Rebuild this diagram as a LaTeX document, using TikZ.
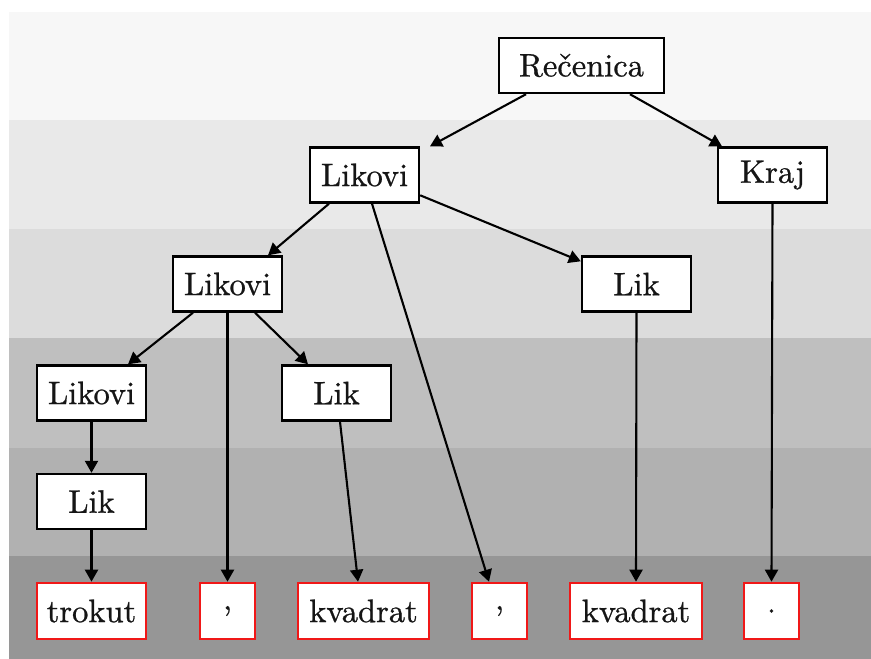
\documentclass[tikz,border=0pt]{standalone}
\usepackage{fontspec}
\usetikzlibrary{arrows.meta,calc}
\newfontfamily\nodefont{lmroman10-regular.otf}[FakeBold=0.8]
\definecolor{bandA}{HTML}{F7F7F7}
\definecolor{bandB}{HTML}{E9E9E9}
\definecolor{bandC}{HTML}{DCDCDC}
\definecolor{bandD}{HTML}{BFBFBF}
\definecolor{bandE}{HTML}{B1B1B1}
\definecolor{bandF}{HTML}{969696}
\definecolor{leafred}{HTML}{F01818}
\definecolor{ink}{HTML}{151515}
\begin{document}
\begin{tikzpicture}[x=1pt,y=-1pt,
  every node/.style={font=\nodefont\fontsize{32.5}{38}\selectfont, text=ink},
  phrase/.style={draw=black, line width=2.4pt, fill=white, rectangle,
    minimum width=109pt, minimum height=55pt, inner sep=0pt},
  token/.style={draw=leafred, line width=2.6pt, fill=white, rectangle,
    minimum height=56pt, inner sep=0pt},
  edge/.style={line width=2.1pt, -{Triangle[length=12pt,width=13pt]}}]
\useasboundingbox (0,0) rectangle (871,659);
% horizontal level bands
\fill[bandA] (9,12) rectangle (871,120);
\fill[bandB] (9,120) rectangle (871,229);
\fill[bandC] (9,229) rectangle (871,338);
\fill[bandD] (9,338) rectangle (871,448);
\fill[bandE] (9,448) rectangle (871,556);
\fill[bandF] (9,556) rectangle (871,659);

% parse tree nodes
\node[phrase, minimum width=165pt] (rec) at (581.5,65.5) {Rečenica};
\node[phrase] (lk1) at (364.5,175) {Likovi};
\node[phrase] (kraj) at (772.5,175) {Kraj};
\node[phrase] (lk2) at (227.5,284) {Likovi};
\node[phrase] (likR) at (636.5,284) {Lik};
\node[phrase] (lk3) at (91.5,393) {Likovi};
\node[phrase] (likM) at (336.5,393) {Lik};
\node[phrase] (likB) at (91.5,501.5) {Lik};

% terminal tokens
\node[token, minimum width=109pt] (t1) at (91.5,611) {trokut};
\node[token, minimum width=55pt] (t2) at (227.5,611) {,};
\node[token, minimum width=131pt] (t3) at (363.5,611) {kvadrat};
\node[token, minimum width=55pt] (t4) at (499.5,611) {,};
\node[token, minimum width=132pt] (t5) at (636,611) {kvadrat};
\node[token, minimum width=55pt] (t6) at (771.5,611) {.};

% connectors
\draw[edge] ($(rec.south)+(-55.5,0)$) -- ($(lk1.north)+(65.5,0)$);
\draw[edge] ($(rec.south)+(48.5,0)$) -- ($(kraj.north)+(-50.5,0)$);
\draw[edge] ($(lk1.south)+(-35.5,0)$) -- ($(lk2.north)+(40.5,0)$);
\draw[edge] ($(lk1.south)+(7.5,0)$) -- ($(t4.north)+(-10.5,0)$);
\draw[edge] ($(lk1.north east)+(0,49)$) -- ($(likR.north west)+(0,6)$);
\draw[edge] (kraj.south) -- (t6.north);
\draw[edge] ($(lk2.south)+(-34.5,0)$) -- ($(lk3.north)+(36.5,0)$);
\draw[edge] (lk2.south) -- (t2.north);
\draw[edge] ($(lk2.south)+(27.5,0)$) -- ($(likM.north)+(-28.5,0)$);
\draw[edge] (likR.south) -- (t5.north);
\draw[edge] (lk3.south) -- (likB.north);
\draw[edge] ($(likM.south)+(3.5,0)$) -- ($(t3.north)+(-5.5,0)$);
\draw[edge] (likB.south) -- (t1.north);
\end{tikzpicture}
\end{document}
